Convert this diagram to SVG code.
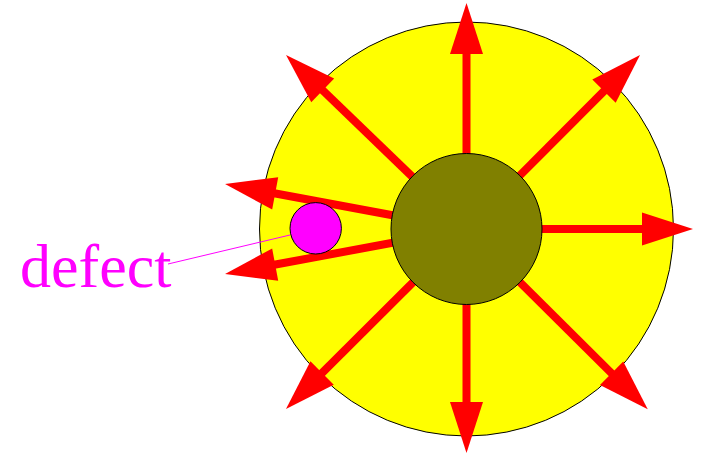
<svg xmlns="http://www.w3.org/2000/svg" width="701" height="454" viewBox="0 0 701 454">
<style>
.ray{stroke:#ff0000;stroke-width:8;fill:none;marker-end:url(#ah)}
.circ{stroke:#000;stroke-width:1}
</style>
<defs>
<marker id="ah" markerUnits="userSpaceOnUse" markerWidth="52" markerHeight="34" refX="1" refY="17" orient="auto" viewBox="0 0 52 34" overflow="visible">
<path d="M0,0.5 L51,17 L0,33.5 z" fill="#ff0000"/>
</marker>
</defs>
<rect width="701" height="454" fill="#fff"/>
<g id="outer"><circle class="circ" cx="466.5" cy="229" r="207" fill="#ffff00"/></g>
<g id="connectors">
<line class="ray" x1="466.5" y1="229" x2="466.5" y2="53"/>
<line class="ray" x1="466.5" y1="229" x2="643" y2="229"/>
<line class="ray" x1="466.5" y1="229" x2="466.5" y2="403"/>
<line class="ray" x1="466.5" y1="229" x2="604.7" y2="90.4"/>
<line class="ray" x1="466.5" y1="229" x2="322" y2="89.7"/>
<line class="ray" x1="466.5" y1="229" x2="321.4" y2="373.7"/>
<line class="ray" x1="466.5" y1="229" x2="612.3" y2="374"/>
<line class="ray" x1="466.5" y1="229" x2="274.2" y2="193.2"/>
<line class="ray" x1="466.5" y1="229" x2="274.2" y2="264.8"/>
<line x1="290" y1="235" x2="168" y2="264" stroke="#ff00ff" stroke-width="1"/>
</g>
<g id="inner"><circle class="circ" cx="466.5" cy="229" r="75.5" fill="#808000"/></g>
<g id="defect"><circle class="circ" cx="315.7" cy="228.3" r="25.7" fill="#ff00ff"/></g>
<g id="defect-label"><text x="20" y="287" font-family="Liberation Serif, Times New Roman, serif" font-size="62" fill="#ff00ff">defect</text></g>
</svg>
